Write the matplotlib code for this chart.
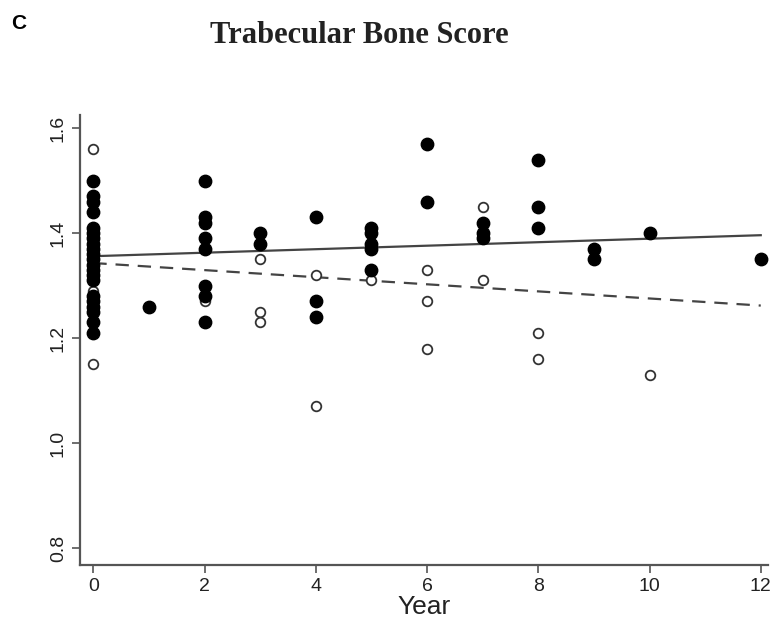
import matplotlib
matplotlib.use('Agg')
import matplotlib.pyplot as plt
import numpy as np

# filled circles (one group), open circles (other group)
filled_year = [0]*21 + [1] + [2]*8 + [3]*2 + [4]*3 + [5]*5 + [6]*2 + [7]*3 + [8]*3 + [9]*2 + [10] + [12]
filled_tbs = [1.50, 1.47, 1.46, 1.44, 1.41, 1.40, 1.39, 1.38, 1.37, 1.36, 1.35,
              1.34, 1.33, 1.32, 1.31, 1.28, 1.27, 1.26, 1.25, 1.23, 1.21,
              1.26,
              1.50, 1.43, 1.42, 1.39, 1.37, 1.30, 1.28, 1.23,
              1.40, 1.38,
              1.43, 1.27, 1.24,
              1.41, 1.40, 1.38, 1.37, 1.33,
              1.57, 1.46,
              1.42, 1.40, 1.39,
              1.54, 1.45, 1.41,
              1.37, 1.35,
              1.40,
              1.35]

open_year = [0]*7 + [2] + [3]*3 + [4]*2 + [5] + [6]*3 + [7]*2 + [8]*2 + [10]
open_tbs = [1.56, 1.38, 1.36, 1.33, 1.31, 1.29, 1.15,
            1.27,
            1.35, 1.25, 1.23,
            1.32, 1.07,
            1.31,
            1.33, 1.27, 1.18,
            1.45, 1.31,
            1.21, 1.16,
            1.13]

# fitted lines (end points)
fit_x = [0, 12]
fit_filled = [1.356, 1.396]
fit_open = [1.343, 1.262]

plt.rcParams['font.family'] = ['Liberation Sans', 'DejaVu Sans']

fig = plt.figure(figsize=(7.73, 6.19), dpi=100)
ax = fig.add_axes([0.1035, 0.0873, 0.89, 0.727])

ax.plot(fit_x, fit_filled, color='#444444', lw=1.6, zorder=2)
ax.plot(fit_x, fit_open, color='#444444', lw=1.6, ls=(0, (6, 4)), zorder=2)

ax.scatter(open_year, open_tbs, s=48, facecolor='white', edgecolor='#333333',
           linewidth=1.3, zorder=3)
ax.scatter(filled_year, filled_tbs, s=80, color='black', zorder=4)

ax.set_xlim(-0.24, 12.13)
ax.set_ylim(0.768, 1.625)
ax.set_xticks(range(0, 13, 2))
ax.set_yticks([0.8, 1.0, 1.2, 1.4, 1.6])
ax.set_yticklabels(['0.8', '1.0', '1.2', '1.4', '1.6'], rotation=90, va='center')

for s in ['top', 'right']:
  ax.spines[s].set_visible(False)
for s in ['left', 'bottom']:
  ax.spines[s].set_color('#555555')
  ax.spines[s].set_linewidth(1.6)
ax.tick_params(direction='out', length=6, width=1.2, color='#555555',
               labelsize=14, labelcolor='#222222')
ax.set_xlabel('Year', fontsize=19, color='#222222', labelpad=0)

fig.text(0.465, 0.943, 'Trabecular Bone Score', fontsize=22, fontweight='bold',
         family='Liberation Serif', ha='center', va='center', color='#222222')
fig.text(0.014, 0.962, 'C', fontsize=15, fontweight='bold', ha='left', va='center')

fig.savefig('out.png', dpi=100)
